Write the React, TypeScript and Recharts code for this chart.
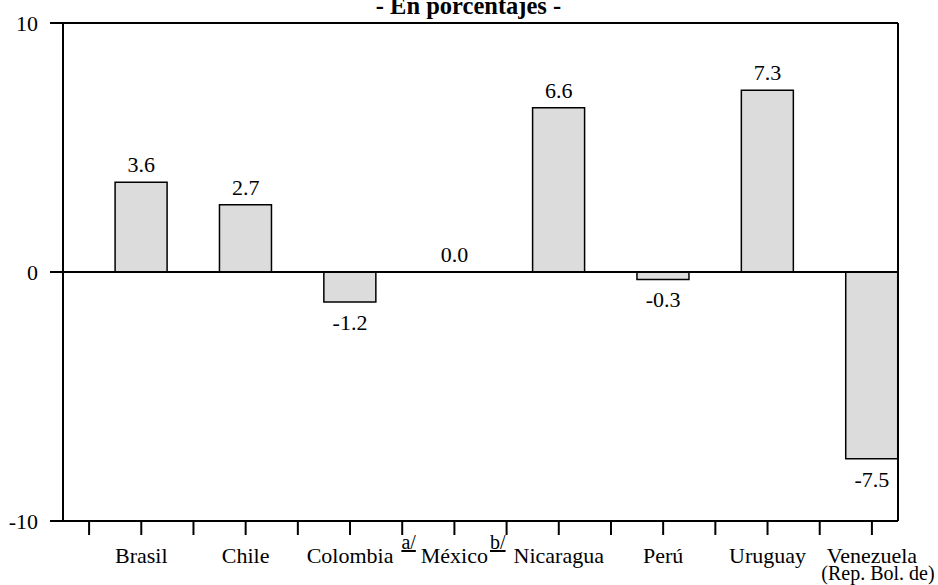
import React from 'react';
import { ComposedChart, Bar, Scatter, XAxis, YAxis, ReferenceLine } from 'recharts';

const categories = ['Brasil', 'Chile', 'Colombia', 'México', 'Nicaragua', 'Perú', 'Uruguay', 'Venezuela'];
const categoryNotes = ['', '', 'a/', 'b/', '', '', '', ''];
const categorySubLabels = ['', '', '', '', '', '', '', '(Rep. Bol. de)'];
const values = [3.6, 2.7, -1.2, 0.0, 6.6, -0.3, 7.3, -7.5];
const yTicks = [-10, 0, 10];
const title = '- En porcentajes -';

const data = categories.map((name, i) => ({ pos: i, name, value: values[i] }));
const xTicks: number[] = [];
categories.forEach((_, i) => {
  xTicks.push(i - 0.5);
  xTicks.push(i);
});

const FONT = '"Liberation Serif", "Times New Roman", serif';

let measureCtx: CanvasRenderingContext2D | null = null;
function measure(text: string, size: number): number {
  if (!measureCtx) {
    const c = document.createElement('canvas');
    measureCtx = c.getContext('2d');
  }
  if (!measureCtx) return text.length * size * 0.5;
  measureCtx.font = `${size}px "Liberation Serif"`;
  return measureCtx.measureText(text).width;
}

const XTick = (props: any) => {
  const { x, y, payload } = props;
  const v = Number(payload && payload.value);
  if (!Number.isInteger(v) || v < 0 || v >= categories.length) return <g />;
  const name = categories[v];
  const note = categoryNotes[v];
  const sub = categorySubLabels[v];
  const w = measure(name, 22);
  const gap = note === 'a/' ? 8 : 2;
  return (
    <g>
      <text x={x} y={y + 28} textAnchor="middle" fontSize={22} fontFamily={FONT} fill="#000">
        {name}
      </text>
      {note ? (
        <text
          x={x + w / 2 + gap}
          y={y + 14}
          textAnchor="start"
          fontSize={20}
          fontFamily={FONT}
          fill="#000"
          textDecoration="underline"
        >
          {note}
        </text>
      ) : null}
      {sub ? (
        <text x={x + 6} y={y + 45} textAnchor="middle" fontSize={20} fontFamily={FONT} fill="#000">
          {sub}
        </text>
      ) : null}
    </g>
  );
};

const ValueLabelShape = (props: any) => {
  const { cx, cy, payload } = props;
  if (cx == null || cy == null || !payload) return <g />;
  const value = Number(payload.value);
  const ty = value >= 0 ? cy - 10 : cy + 28;
  return (
    <text x={cx} y={ty} textAnchor="middle" fontSize={22} fontFamily={FONT} fill="#000">
      {value.toFixed(1)}
    </text>
  );
};

export default function App() {
  return (
    <div style={{ position: 'absolute', left: 0, top: 0, width: 938, height: 585, fontFamily: FONT }}>
      <ComposedChart
        width={938}
        height={585}
        data={data}
        margin={{ top: 23, right: 40, bottom: 0, left: 0 }}
      >
        <XAxis
          type="number"
          dataKey="pos"
          domain={[-0.75, 7.25]}
          allowDataOverflow
          ticks={xTicks}
          interval={0}
          height={64}
          tickSize={14}
          tickMargin={0}
          axisLine={{ stroke: '#000', strokeWidth: 2 }}
          tickLine={{ stroke: '#000', strokeWidth: 2 }}
          tick={<XTick />}
        />
        <YAxis
          type="number"
          domain={[-10, 10]}
          ticks={yTicks}
          interval={0}
          width={63}
          tickSize={13}
          tickMargin={12}
          axisLine={{ stroke: '#000', strokeWidth: 2 }}
          tickLine={{ stroke: '#000', strokeWidth: 2 }}
          tick={{ fontSize: 22, fill: '#000', fontFamily: FONT }}
        />
        <Bar
          dataKey="value"
          fill="#dcdcdc"
          stroke="#000"
          strokeWidth={1.5}
          barSize={52}
          isAnimationActive={false}
        />
        <ReferenceLine y={0} stroke="#000" strokeWidth={2} />
        <ReferenceLine y={10} stroke="#000" strokeWidth={2} />
        <ReferenceLine x={7.25} stroke="#000" strokeWidth={2} />
        <Scatter dataKey="value" shape={<ValueLabelShape />} isAnimationActive={false} />
      </ComposedChart>
      <svg
        width={938}
        height={30}
        style={{ position: 'absolute', left: 0, top: 0, pointerEvents: 'none' }}
      >
        <text
          x={468.5}
          y={14}
          textAnchor="middle"
          fontSize={24.5}
          fontWeight="bold"
          fontFamily={FONT}
          fill="#000"
        >
          {title}
        </text>
      </svg>
    </div>
  );
}
